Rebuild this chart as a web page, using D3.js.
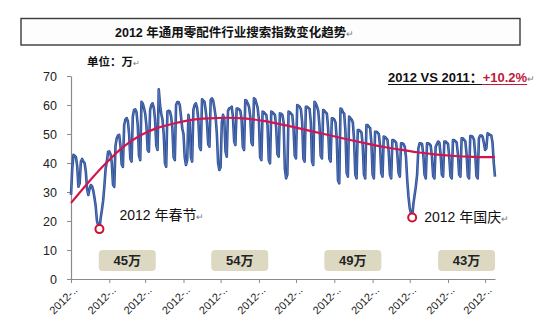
<!DOCTYPE html>
<html>
<head>
<meta charset="utf-8">
<script src="https://cdn.jsdelivr.net/npm/d3@7"></script>
<style>
  html, body { margin: 0; padding: 0; background: #fff; }
  svg { display: block; }
  text { font-family: "Liberation Sans", Arial, "Noto Sans CJK SC", sans-serif; }
</style>
</head>
<body>
<svg id="chart" width="550" height="323"></svg>
<script>
// ---- data -------------------------------------------------------------
const titleText = "2012 年通用零配件行业搜索指数变化趋势";
const unitText = "单位：万";
const compareLabel = "2012 VS 2011：";
const compareValue = "+10.2%";

// daily search index (万), starting Sunday 2012-01-01, one row per Mon–Sun week
const startDate = "2012-01-01";
const searchIndex = [
  29,
  38, 42.8, 42.5, 42, 39, 31.8, 33,
  40.5, 41.4, 40.5, 40, 37, 31, 29,
  31, 32.4, 32, 30.5, 28, 25, 20,
  18.5, 17.2, 21, 23.8, 27, 32, 38,
  40.5, 43.9, 44, 43, 40, 32.5, 31.8,
  46, 48.5, 49.5, 49.7, 46, 39.5, 38.7,
  53, 55, 55.5, 54.5, 50, 41.5, 40.5,
  56, 58.3, 58.5, 57.5, 53, 42.5, 41,
  61.1, 60.6, 59, 57.1, 53, 44.5, 43.9,
  58.3, 60, 60.6, 59, 55, 46, 44.5,
  65.4, 60, 57, 55, 50, 40, 38.7,
  57.8, 58, 57.8, 56, 52, 42, 41,
  60, 61, 61, 60, 56, 52, 50,
  42, 39.3, 41, 56.6, 54, 42, 40.5,
  58.3, 60, 60.6, 59, 55, 45.5, 44.5,
  62, 61.5, 61.1, 58, 54, 46.5, 45.6,
  61.7, 62.3, 61.5, 59, 56, 50, 40,
  37.6, 38.5, 54, 56.6, 55, 44, 42.2,
  58, 58.8, 59, 59.4, 56, 47.5, 46.2,
  58.8, 58.8, 58.5, 58, 55, 45.5, 44.5,
  61.7, 61.5, 60.5, 59.4, 56, 47, 46.2,
  62.3, 62, 60.6, 59, 55, 42, 41,
  57.7, 57.5, 57, 56.6, 53, 41, 39.9,
  57.7, 57.5, 57, 56.6, 52, 43, 42.2,
  57.1, 57, 56.6, 54, 38, 34.7, 36,
  57.7, 57.5, 57, 56.6, 52, 42.5, 41.6,
  60, 59.7, 59.4, 58.5, 54, 41.5, 40.5,
  59.4, 59.4, 59, 58.6, 54, 40.5, 39.3,
  61.1, 60.5, 59.5, 58, 53, 42.5, 41.6,
  58.3, 58, 57.5, 57, 52, 41.5, 40.5,
  55.4, 55.4, 55, 54, 48, 34, 33,
  58.8, 58.5, 57.5, 57, 51, 36.5, 35.3,
  56, 55.5, 55, 54, 48, 36, 34.7,
  51.4, 51.4, 51, 50.5, 46, 36, 34.7,
  53.1, 53.1, 52.5, 52, 47, 36, 34.7,
  50.8, 50.8, 50.5, 50, 46, 36.5, 35.3,
  49.1, 49, 48.5, 48, 44, 36, 34.7,
  47.9, 47.9, 47.5, 47, 43, 36.5, 35.3,
  46.8, 46.8, 46.5, 45.6, 42, 34.1, 28.4,
  24.5, 22.6, 21.2, 26, 29, 32, 36,
  45, 46.8, 46.8, 46.5, 43, 36, 34.7,
  46.8, 46.8, 46.5, 46, 42, 35.5, 34.7,
  45.6, 46.5, 47.4, 47, 43, 36, 35.3,
  47.4, 47.4, 47, 46.5, 42, 35.5, 34.7,
  47.9, 47.9, 47.5, 47, 43, 36, 35.3,
  48.5, 48.5, 48, 47.5, 43, 35.5, 34.7,
  49.3, 49.3, 49, 48, 43, 35.5, 34.7,
  48.5, 49.5, 49.5, 49, 47, 44.5, 45,
  50.2, 50, 49.7, 49.5, 47, 40, 35.3
];

// fitted trend, sampled every 14 days from the start date
const trendStep = 14;
const trendValues = [26.2, 33.3, 39.8, 45.5, 49.5, 52.1, 53.7, 54.9, 55.4, 55.6,
  55.4, 54.6, 53.5, 52.2, 50.8, 49.5, 48.1, 46.8, 45.6, 44.6, 43.7, 43.0,
  42.5, 42.2, 42.0];
const trendEnd = 42.0;

const yTicks = [0, 10, 20, 30, 40, 50, 60, 70];
const xTickLabels = ["2012-..", "2012-..", "2012-..", "2012-..", "2012-..", "2012-..",
  "2012-..", "2012-..", "2012-..", "2012-..", "2012-..", "2012-.."];

const quarterStarts = ["2012-01-01", "2012-04-01", "2012-07-01", "2012-10-01", "2013-01-01"];
const quarterLabels = ["45万", "54万", "49万", "43万"];

const holidays = [
  { date: "2012-01-24", label: "2012 年春节" },
  { date: "2012-10-03", label: "2012 年国庆" }
];

// ---- setup ------------------------------------------------------------
const parse = d3.utcParse("%Y-%m-%d");
const t0 = parse(startDate);
const dayAt = i => d3.utcDay.offset(t0, i);
const series = searchIndex.map((v, i) => ({ date: dayAt(i), value: v }));
const lastDate = series[series.length - 1].date;

const trend = trendValues.map((v, i) => ({ date: dayAt(i * trendStep), value: v }));
trend.push({ date: lastDate, value: trendEnd });

const svg = d3.select("#chart");
const plot = { left: 71, right: 495, top: 76, bottom: 279 };

const x = d3.scaleUtc().domain([t0, lastDate]).range([plot.left, plot.right]);
const y = d3.scaleLinear().domain([0, 70]).range([plot.bottom, plot.top]);

// ---- title box --------------------------------------------------------
svg.append("rect")
  .attr("x", 21).attr("y", 18.5).attr("width", 499).attr("height", 26.5)
  .attr("fill", "#fdfdfd").attr("stroke", "#3a3a3a").attr("stroke-width", 1.4);

const title = svg.append("text")
  .attr("x", 115).attr("y", 36.5)
  .attr("font-size", 12.5).attr("font-weight", "bold").attr("fill", "#111");
title.append("tspan").text(titleText);
title.append("tspan").text("↵").attr("font-size", 9).attr("font-weight", "normal").attr("fill", "#777");

const unit = svg.append("text")
  .attr("x", 87).attr("y", 66)
  .attr("font-size", 11.5).attr("font-weight", "bold").attr("fill", "#111");
unit.append("tspan").text(unitText);
unit.append("tspan").text("↵").attr("font-size", 8).attr("font-weight", "normal").attr("fill", "#777");

// ---- axes ---------------------------------------------------------------
const yAxis = svg.append("g")
  .attr("transform", `translate(${plot.left},0)`)
  .call(d3.axisLeft(y).tickValues(yTicks).tickSize(4).tickPadding(10).tickSizeOuter(0));
yAxis.select(".domain").attr("stroke", "#8a8a8a").attr("stroke-width", 1.2);
yAxis.selectAll(".tick line").attr("stroke", "#8a8a8a");
yAxis.selectAll(".tick text").attr("font-size", 12.5).attr("fill", "#222")
  .attr("font-family", "'Liberation Sans', Arial, sans-serif");

const monthTicks = d3.utcMonth.range(t0, lastDate);
const xAxis = svg.append("g")
  .attr("transform", `translate(0,${plot.bottom})`)
  .call(d3.axisBottom(x).tickValues(monthTicks).tickSize(4).tickSizeOuter(0)
    .tickFormat((d, i) => xTickLabels[i]));
xAxis.select(".domain").attr("stroke", "#8a8a8a").attr("stroke-width", 1.2);
xAxis.selectAll(".tick line").attr("stroke", "#8a8a8a");
xAxis.selectAll(".tick text")
  .attr("font-size", 11).attr("fill", "#222")
  .attr("text-anchor", "end")
  .attr("font-family", "'Liberation Sans', Arial, sans-serif")
  .attr("transform", "translate(4,9) rotate(-45)")
  .attr("dy", "0.35em").attr("y", 0);

// ---- series ----------------------------------------------------------
const line = d3.line().x(d => x(d.date)).y(d => y(d.value));

svg.append("path")
  .datum(series)
  .attr("fill", "none")
  .attr("stroke", "#2f4f95")
  .attr("stroke-width", 2.6)
  .attr("stroke-linejoin", "round")
  .attr("d", line);
svg.append("path")
  .datum(series)
  .attr("fill", "none")
  .attr("stroke", "#5a7cc0")
  .attr("stroke-width", 1)
  .attr("stroke-linejoin", "round")
  .attr("opacity", 0.8)
  .attr("d", line);

svg.append("path")
  .datum(trend)
  .attr("fill", "none")
  .attr("stroke", "#d2154f")
  .attr("stroke-width", 2.2)
  .attr("d", line.curve(d3.curveMonotoneX));

// ---- quarterly average tags --------------------------------------------
quarterLabels.forEach((lab, i) => {
  const cx = (x(parse(quarterStarts[i])) + x(parse(quarterStarts[i + 1]))) / 2;
  svg.append("rect")
    .attr("x", cx - 28.5).attr("y", 250).attr("width", 57).attr("height", 21)
    .attr("rx", 4).attr("fill", "#dcd8c2");
  svg.append("text")
    .attr("x", cx).attr("y", 265)
    .attr("text-anchor", "middle")
    .attr("font-size", 13).attr("font-weight", "bold").attr("fill", "#222")
    .text(lab);
});

// ---- holiday markers ---------------------------------------------------
const labelOffsets = [{ dx: 20, dy: -9 }, { dx: 12, dy: 4 }];
holidays.forEach((h, i) => {
  const pt = series.find(d => +d.date === +parse(h.date));
  const px = x(pt.date), py = y(pt.value);
  svg.append("circle")
    .attr("cx", px).attr("cy", py).attr("r", 4)
    .attr("fill", "#fff").attr("stroke", "#d0102e").attr("stroke-width", 2);
  const t = svg.append("text")
    .attr("x", px + labelOffsets[i].dx).attr("y", py + labelOffsets[i].dy)
    .attr("font-size", 14).attr("fill", "#111");
  t.append("tspan").text(h.label);
  t.append("tspan").text("↵").attr("font-size", 9).attr("fill", "#777");
});

// ---- year-over-year note -----------------------------------------------
const note = svg.append("text")
  .attr("x", 388).attr("y", 82)
  .attr("font-size", 13).attr("font-weight", "bold");
const n1 = note.append("tspan").text(compareLabel).attr("fill", "#111");
const n2 = note.append("tspan").text(compareValue).attr("fill", "#c0183a");
note.append("tspan").text("↵").attr("font-size", 9).attr("font-weight", "normal").attr("fill", "#777");
const w1 = n1.node().getComputedTextLength();
const w2 = n2.node().getComputedTextLength();
svg.append("line").attr("x1", 388).attr("x2", 388 + w1).attr("y1", 84.5).attr("y2", 84.5)
  .attr("stroke", "#111").attr("stroke-width", 1.2);
svg.append("line").attr("x1", 388 + w1).attr("x2", 388 + w1 + w2).attr("y1", 84.5).attr("y2", 84.5)
  .attr("stroke", "#c0183a").attr("stroke-width", 1.2);
</script>
</body>
</html>
